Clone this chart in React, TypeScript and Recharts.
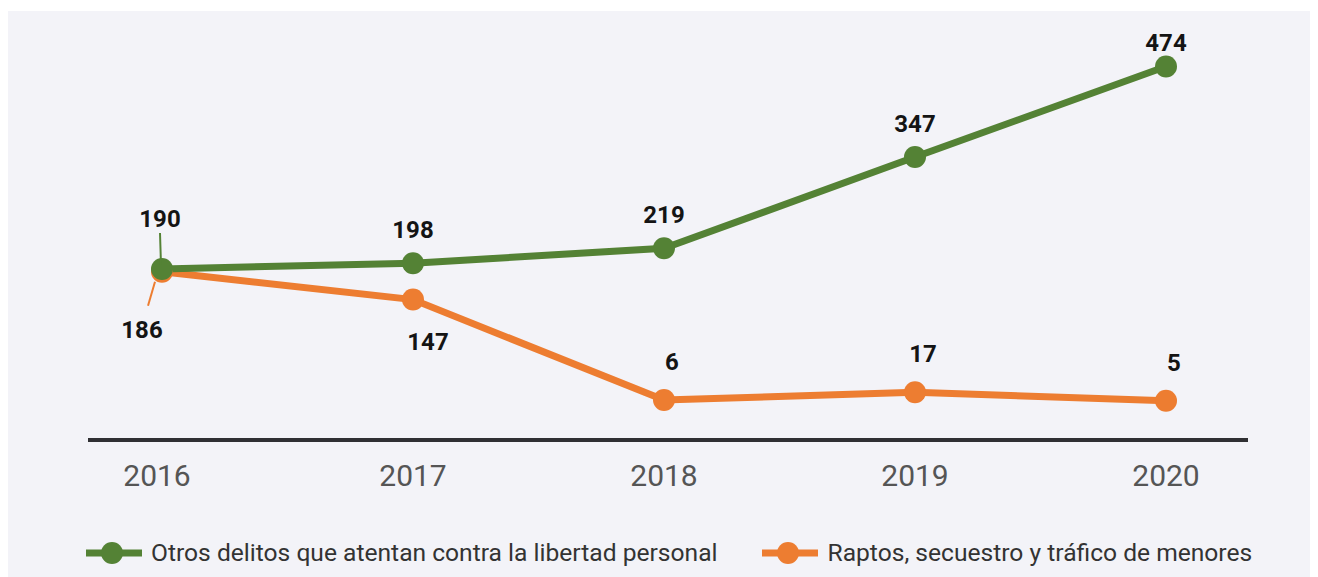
import React from "react";
import { LineChart, Line, XAxis, YAxis, LabelList } from "recharts";

const years = ["2016", "2017", "2018", "2019", "2020"];
const otrosDelitos = [190, 198, 219, 347, 474];
const raptos = [186, 147, 6, 17, 5];

const GREEN = "#548235";
const ORANGE = "#ED7D31";
const FONT = "Roboto, 'Noto Sans', sans-serif";

const data = years.map((y, i) => ({ year: y, otros: otrosDelitos[i], raptos: raptos[i] }));

const LBL = { fontFamily: FONT, fontWeight: 700, fontSize: 24, fill: "#141414" } as const;

const greenLabel = (props: any) => {
  const { x, y, value, index } = props;
  if (index === 0) {
    return (
      <g>
        <line x1={x - 1} y1={y - 4} x2={x - 2} y2={y - 36} stroke={GREEN} strokeWidth={2} />
        <text x={x - 2} y={y - 50} textAnchor="middle" dominantBaseline="central" {...LBL}>{value}</text>
      </g>
    );
  }
  const dy = index === 4 ? -24 : -33;
  return (
    <text x={x} y={y + dy} textAnchor="middle" dominantBaseline="central" {...LBL}>{value}</text>
  );
};

const orangeLabel = (props: any) => {
  const { x, y, value, index } = props;
  if (index === 0) {
    return (
      <g>
        <line x1={x - 7} y1={y + 10} x2={x - 14} y2={y + 34} stroke={ORANGE} strokeWidth={2} />
        <text x={x - 20} y={y + 58} textAnchor="middle" dominantBaseline="central" {...LBL}>{value}</text>
      </g>
    );
  }
  const dy = index === 1 ? 42 : -38;
  const dx = index === 1 ? 15 : 8;
  return (
    <text x={x + dx} y={y + dy} textAnchor="middle" dominantBaseline="central" {...LBL}>{value}</text>
  );
};

const LegendIcon = ({ color }: { color: string }) => (
  <svg width={56} height={26} style={{ display: "block" }}>
    <line x1={0} y1={13} x2={56} y2={13} stroke={color} strokeWidth={7} />
    <circle cx={26} cy={13} r={11} fill={color} />
  </svg>
);

const CustomTick = (props: any) => {
  const { x, y, payload, index } = props;
  const dx = index === 0 ? -5 : 0;
  return (
    <text x={x + dx} y={y} dy={20} textAnchor="middle" fontFamily={FONT} fontSize={30} fill="#555">{payload.value}</text>
  );
};

export default function App() {
  return (
    <div style={{ width: 1302, height: 566, marginTop: 3, background: "#f3f3f8", position: "relative" }}>
      <LineChart width={1302} height={566} data={data} margin={{ top: 37, right: 62, left: 80, bottom: 59 }}>
        <YAxis hide domain={[-50, 500]} type="number" />
        <XAxis
          dataKey="year"
          padding={{ left: 74, right: 82 }}
          axisLine={{ stroke: "#2f2f33", strokeWidth: 4 }}
          tickLine={false}
          height={78}
          tick={<CustomTick />}
          tickMargin={20}
        />
        <Line dataKey="raptos" stroke={ORANGE} strokeWidth={7} isAnimationActive={false}
          dot={{ r: 11, fill: ORANGE, stroke: ORANGE, strokeWidth: 0 }}>
          <LabelList dataKey="raptos" content={orangeLabel} />
        </Line>
        <Line dataKey="otros" stroke={GREEN} strokeWidth={7} isAnimationActive={false}
          dot={{ r: 11, fill: GREEN, stroke: GREEN, strokeWidth: 0 }}>
          <LabelList dataKey="otros" content={greenLabel} />
        </Line>
      </LineChart>
      <div style={{ position: "absolute", left: 78, top: 527, display: "flex", alignItems: "center", fontFamily: FONT, fontSize: 24.6, color: "#333", whiteSpace: "nowrap" }}>
        <LegendIcon color={GREEN} />
        <span style={{ marginLeft: 9 }}>Otros delitos que atentan contra la libertad personal</span>
        <span style={{ width: 44 }} />
        <LegendIcon color={ORANGE} />
        <span style={{ marginLeft: 10 }}>Raptos, secuestro y tráfico de menores</span>
      </div>
    </div>
  );
}
